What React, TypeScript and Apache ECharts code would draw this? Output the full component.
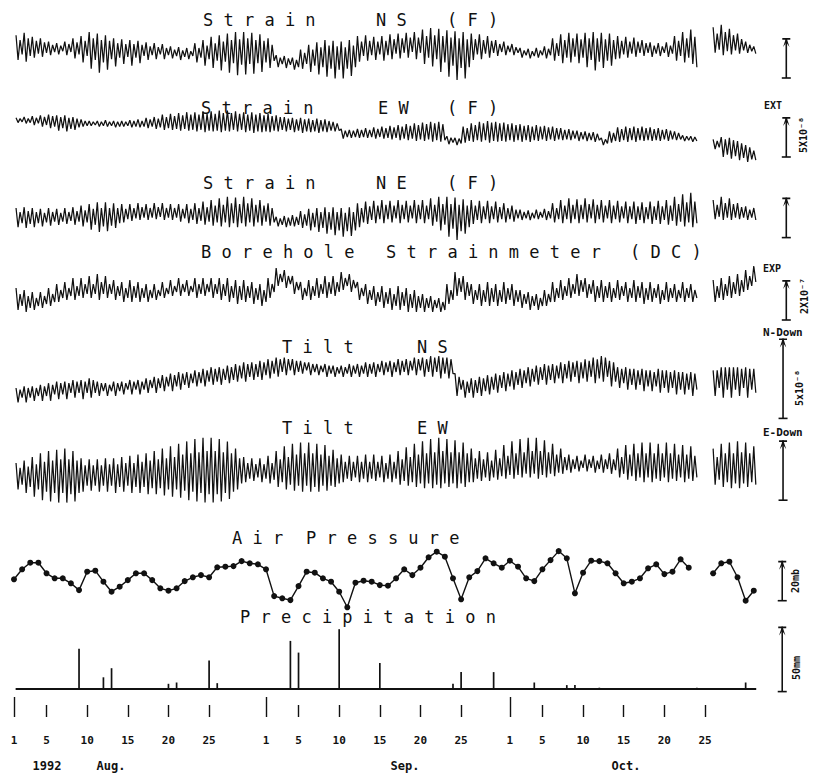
import React, { useEffect, useRef } from "react";
import * as echarts from "echarts";

// Day index: 0 = 1 Aug 1992. Tidal records read at 6-hour steps (4 per day).
const SAMPLE_STEP = 0.25;
const MAIN_START = 0.25;
const RIGHT_START = 86;
const RECORD_START = 0.2;
const RECORD_END = 91.3;

// Strain NS (F), 1e-9
const strainNSMain = [
  16,-15,10,-8, 19,-17,12,-10, 14,-12,9,-7, 12,-11,7,-6, 8,-9,4,-5, 6,-8,3,-4, 8,-9,5,-5, 12,-13,7,-8, 15,-18,9,-10, 20,-26,12,-15,
  18,-31,10,-18, 16,-27,9,-14, 12,-23,6,-12, 11,-20,5,-11, 10,-22,5,-12, 9,-19,4,-10, 7,-15,2,-9, 6,-14,1,-8, 5,-14,0,-9, 2,-13,-2,-10,
  1,-15,-3,-11, 0,-14,-4,-10, 6,-18,0,-12, 10,-22,3,-14, 14,-25,6,-16, 16,-28,8,-17, 18,-31,10,-19, 20,-34,11,-21, 20,-33,12,-20, 19,-32,10,-19,
  17,-30,9,-18, 12,-25,4,-16, -9,-24,-12,-20, -10,-25,-13,-21, -12,-27,-15,-24, -2,-26,-6,-20, 4,-30,-2,-22, 7,-33,1,-24, 10,-36,3,-26, 9,-38,2,-27,
  8,-38,1,-26, 10,-35,3,-24, 15,-17,8,-10, 16,-16,9,-9, 14,-15,8,-8, 15,-16,9,-9, 17,-14,11,-7, 18,-13,12,-6, 19,-12,13,-5, 20,-14,13,-6,
  23,-20,15,-12, 25,-23,16,-14, 24,-30,15,-18, 22,-36,13,-22, 21,-40,12,-25, 20,-38,11,-24, 18,-15,11,-8, 17,-14,10,-7, 15,-12,9,-6, 10,-10,5,-5,
  8,-9,3,-5, 5,-9,1,-6, 0,-12,-3,-9, -1,-13,-4,-10, 0,-12,-3,-9, 2,-13,-1,-9, 12,-16,6,-10, 17,-19,10,-12, 19,-18,12,-11, 18,-19,11,-12,
  19,-24,12,-15, 20,-28,12,-17, 19,-25,11,-16, 18,-22,10,-14, 15,-13,9,-8, 14,-12,8,-7, 13,-11,8,-6, 10,-10,6,-6, 7,-11,3,-7, 6,-10,2,-6,
  7,-11,3,-7, 15,-16,9,-10, 20,-18,12,-12, 23,-20,14,-24,
];
const strainNSRight = [26,-6,18,-2, 29,-9,20,-4, 24,-8,16,-3, 18,-7,11,-3, 8,-6,4,-4, 2,-7];

// Strain EW (F), 1e-9
const strainEWMain = [
  19,13,18,14, 20,12,18,13, 21,10,19,12, 22,8,20,10, 23,6,21,8, 22,3,20,6, 22,2,19,5, 20,4,18,7, 17,8,15,9, 15,9,14,10,
  15,8,14,9, 16,8,14,9, 15,7,14,8, 15,8,14,9, 16,7,15,8, 17,7,15,8, 19,6,17,8, 20,5,18,7, 23,4,20,6, 24,4,21,5,
  25,3,22,5, 26,3,23,4, 26,2,23,4, 27,1,24,3, 27,2,24,3, 28,1,25,3, 28,2,25,4, 27,2,24,4, 26,1,23,3, 26,0,23,2,
  25,1,22,2, 24,1,21,3, 22,2,20,4, 20,2,18,4, 19,1,17,3, 19,0,17,2, 18,1,16,2, 18,0,16,2, 17,1,15,3, 14,2,12,3,
  5,-7,3,-5, 4,-6,3,-5, 5,-6,4,-5, 6,-6,4,-5, 7,-7,5,-5, 8,-7,6,-6, 9,-8,7,-6, 10,-9,8,-7, 11,-9,9,-7, 12,-10,10,-8,
  13,-10,11,-8, 14,-11,12,-9, 14,-11,11,-9, -4,-14,-6,-12, -6,-15,-7,-13, 8,-12,6,-10, 12,-11,10,-9, 14,-11,12,-9, 15,-12,13,-10, 14,-11,12,-10,
  13,-11,11,-9, 12,-11,10,-9, 11,-11,9,-9, 10,-11,8,-9, 10,-10,8,-8, 9,-10,7,-8, 8,-10,6,-8, 6,-9,4,-8, 5,-9,3,-7, 3,-10,1,-8,
  2,-10,0,-9, 1,-11,-1,-9, -6,-15,-8,-13, 2,-12,0,-10, 7,-11,5,-9, 8,-11,6,-9, 8,-11,6,-9, 8,-10,6,-9, 7,-10,5,-9, 6,-10,4,-8,
  5,-10,3,-8, 2,-9,0,-8, -3,-10,-4,-9, -4,-11,-5,-10,
];
const strainEWRight = [-8,-20,-10,-18, -5,-30,-8,-27, -6,-32,-9,-29, -10,-34,-13,-31, -15,-36,-18,-33, -22,-34];

// Strain NE (F), 1e-9
const strainNEMain = [
  10,-14,5,-9, 11,-15,6,-10, 10,-14,5,-9, 9,-13,4,-8, 10,-12,5,-7, 9,-11,4,-7, 10,-10,5,-6, 11,-11,6,-7, 13,-13,7,-8, 15,-17,9,-11,
  17,-20,10,-13, 17,-19,10,-12, 16,-15,10,-9, 15,-8,9,-4, 15,-6,10,-3, 16,-5,11,-2, 15,-5,10,-2, 16,-4,11,-1, 16,-5,10,-2, 15,-5,10,-2,
  15,-7,9,-3, 15,-9,9,-5, 16,-10,10,-6, 18,-11,11,-7, 20,-12,13,-8, 22,-13,14,-8, 24,-14,16,-9, 23,-14,15,-9, 24,-13,16,-8, 22,-13,14,-8,
  20,-12,13,-7, 16,-12,10,-8, -1,-13,-3,-11, 0,-14,-2,-12, 1,-13,-1,-11, 6,-15,2,-12, 9,-18,4,-14, 10,-20,5,-15, 11,-22,5,-17, 11,-24,5,-18,
  10,-26,4,-19, 11,-25,5,-18, 16,-14,10,-8, 18,-10,12,-5, 19,-9,13,-4, 20,-9,14,-4, 19,-8,13,-3, 20,-9,14,-4, 19,-8,13,-3, 20,-9,14,-4,
  20,-9,13,-4, 22,-12,14,-7, 24,-18,15,-11, 24,-26,15,-16, 23,-30,14,-19, 21,-22,13,-14, 20,-10,13,-5, 19,-9,12,-4, 19,-9,12,-4, 18,-8,11,-4,
  16,-8,10,-4, 13,-7,8,-3, 8,-5,5,-3, 7,-5,4,-3, 8,-4,5,-2, 9,-5,6,-3, 16,-8,10,-4, 20,-9,13,-4, 22,-9,14,-4, 21,-9,14,-4,
  22,-8,15,-3, 21,-9,14,-4, 20,-8,13,-3, 20,-9,13,-4, 19,-8,12,-3, 18,-9,12,-4, 18,-10,12,-5, 17,-9,11,-4, 18,-10,12,-5, 19,-10,12,-5,
  20,-11,13,-6, 24,-12,15,-7, 27,-13,17,-8, 29,-14,18,-9,
];
const strainNERight = [20,-4,14,-1, 24,-5,16,-2, 22,-5,15,-2, 16,-4,11,-2, 12,-5,8,-2, 10,-5];

// Borehole strainmeter (DC), 1e-8
const boreholeMain = [
  1,-10,-2,-8, 0,-11,-3,-9, -1,-10,-4,-8, -1,-9,-3,-7, 1,-8,-2,-6, 3,-6,0,-4, 4,-5,1,-3, 6,-5,2,-3, 6,-4,3,-2, 7,-4,3,-2,
  8,-5,4,-2, 7,-4,3,-2, 5,-5,2,-3, 4,-6,1,-4, 5,-6,2,-4, 4,-6,1,-4, 3,-6,0,-4, 3,-5,0,-3, 4,-4,1,-2, 5,-3,2,-1,
  6,-3,3,-1, 5,-3,2,-1, 6,-4,3,-2, 6,-3,3,-1, 6,-4,3,-2, 6,-5,3,-3, 6,-6,2,-4, 5,-7,2,-5, 5,-6,2,-4, 4,-7,1,-5,
  3,-8,0,-6, 6,-4,3,-1, 11,2,8,4, 10,1,7,3, 7,-2,4,0, 4,-5,1,-3, 5,-5,2,-3, 6,-4,3,-2, 7,-4,4,-2, 7,-3,4,-1,
  9,0,6,2, 8,-1,5,1, 4,-5,1,-3, 3,-7,0,-5, 2,-8,-1,-6, 2,-9,-1,-7, 1,-10,-2,-8, 2,-10,-1,-8, 1,-11,-2,-9, 0,-11,-3,-9,
  -2,-11,-4,-9, -3,-11,-5,-9, -4,-11,-6,-10, 3,-7,0,-5, 9,-3,6,-1, 7,-5,4,-3, 3,-7,0,-5, 3,-8,0,-6, 4,-8,1,-6, 3,-8,0,-6,
  4,-7,1,-5, 3,-8,0,-6, 0,-9,-2,-7, -1,-10,-3,-8, -2,-10,-4,-8, 0,-8,-2,-6, 4,-6,1,-4, 5,-5,2,-3, 6,-4,3,-2, 8,-3,5,-1,
  6,-4,3,-2, 5,-6,2,-4, 5,-6,2,-4, 4,-6,1,-4, 5,-5,2,-3, 4,-6,1,-4, 5,-6,2,-4, 4,-7,1,-5, 4,-6,1,-4, 3,-7,0,-5,
  4,-6,1,-4, 3,-6,0,-4, 4,-6,1,-4, 3,-6,0,-4,
];
const boreholeRight = [5,-6,2,-4, 6,-5,3,-3, 7,-4,4,-2, 8,-3,5,-1, 10,0,7,2, 12,4];

// Tilt NS, 1e-9 rad
const tiltNSMain = [
  -5,-14,-6,-11, -4,-14,-5,-11, -4,-13,-5,-10, -3,-13,-4,-10, -2,-13,-3,-9, -1,-12,-2,-9, -1,-12,-2,-8, 0,-11,-1,-8, 0,-12,-1,-8, 1,-11,0,-8,
  -1,-10,-2,-7, -2,-10,-3,-7, -1,-10,-2,-7, -1,-9,-2,-6, 0,-9,-1,-6, 0,-9,-1,-6, 1,-8,0,-5, 2,-8,1,-5, 3,-7,2,-4, 4,-7,3,-4,
  5,-6,4,-3, 5,-5,4,-2, 6,-4,5,-2, 7,-4,6,-1, 8,-3,7,-1, 8,-3,7,0, 9,-2,8,0, 10,-1,9,1, 11,-1,10,2, 11,0,10,2,
  12,0,11,3, 13,1,12,4, 14,2,13,5, 14,3,13,6, 13,3,12,5, 12,4,11,6, 11,3,10,5, 10,3,9,5, 10,2,9,4, 9,2,8,4,
  9,2,8,4, 10,2,9,4, 10,2,9,4, 11,2,10,4, 11,2,10,5, 12,3,11,5, 12,2,11,5, 13,3,12,5, 13,3,12,6, 14,3,13,6,
  14,2,13,5, 15,2,14,5, 15,1,14,4, 14,1,13,4, 4,-10,2,-6, 0,-11,-1,-8, 1,-11,0,-8, 2,-10,1,-7, 3,-9,2,-6, 4,-8,3,-5,
  5,-7,4,-4, 6,-6,5,-3, 7,-5,6,-2, 8,-4,7,-1, 9,-3,8,0, 10,-3,9,0, 10,-2,9,1, 11,-2,10,1, 12,-1,11,2, 12,-2,11,1,
  13,-1,12,2, 14,-2,13,1, 15,-1,14,2, 12,-4,11,-1, 8,-5,7,-2, 8,-6,7,-3, 7,-6,6,-3, 7,-7,6,-4, 6,-7,5,-4, 7,-8,6,-5,
  6,-8,5,-5, 6,-9,5,-6, 5,-9,4,-6, 5,-10,4,-6,
];
const tiltNSRight = [6,-10,6,-5, 8,-11,8,-6, 8,-11,8,-6, 8,-10,7,-5, 8,-11,7,-6, 7,-8];

// Tilt EW, 1e-9 rad
const tiltEWMain = [
  10,-12,6,-8, 12,-15,7,-10, 15,-18,9,-12, 18,-21,11,-14, 20,-22,12,-15, 21,-23,13,-15, 22,-23,13,-16, 20,-22,12,-15, 14,-14,8,-9, 13,-13,8,-9,
  13,-14,8,-9, 14,-14,9,-9, 14,-15,9,-10, 15,-14,10,-9, 16,-15,10,-10, 17,-15,11,-10, 18,-16,12,-11, 20,-16,13,-11, 22,-17,14,-12, 24,-18,15,-12,
  26,-19,17,-13, 28,-21,18,-14, 30,-22,19,-15, 31,-23,20,-16, 31,-23,20,-16, 30,-22,19,-15, 28,-20,18,-14, 22,-12,14,-7, 15,-6,10,-3, 14,-5,9,-2,
  14,-6,9,-3, 16,-7,10,-4, 20,-10,13,-6, 24,-12,15,-8, 26,-13,17,-9, 27,-14,18,-9, 27,-14,18,-10, 26,-14,17,-9, 25,-13,16,-9, 21,-10,14,-7,
  17,-6,11,-3, 16,-5,11,-2, 16,-6,11,-3, 17,-6,11,-3, 17,-5,11,-2, 16,-6,10,-3, 17,-6,11,-3, 20,-8,13,-5, 23,-9,15,-6, 26,-10,17,-7,
  28,-11,18,-7, 30,-11,19,-8, 31,-11,20,-7, 30,-10,19,-7, 29,-11,19,-7, 27,-10,18,-6, 22,-6,14,-3, 20,-5,13,-2, 19,-5,12,-2, 21,-4,14,-1,
  25,-3,16,0, 28,-3,18,0, 30,-2,19,1, 31,-2,20,1, 31,-3,20,0, 29,-2,19,1, 26,-1,17,2, 22,1,15,4, 17,2,13,5, 16,3,12,6,
  17,3,13,6, 16,2,12,5, 17,2,13,5, 18,1,13,4, 22,-2,15,1, 25,-4,17,-1, 26,-5,18,-2, 27,-6,18,-2, 27,-6,18,-3, 26,-5,18,-2,
  27,-6,18,-3, 26,-5,17,-2, 25,-6,17,-3, 24,-5,16,-2,
];
const tiltEWRight = [22,-8,15,-4, 26,-10,18,-6, 27,-11,18,-7, 28,-11,19,-7, 27,-10,18,-6, 24,-8];

// Air pressure, daily (mb)
const pressureMain = [
  1013.7, 1018.7, 1022.0, 1022.0, 1016.7, 1014.2, 1014.2, 1011.7, 1008.3, 1017.5,
  1018.0, 1012.5, 1007.5, 1010.0, 1013.3, 1016.7, 1016.7, 1013.3, 1009.2, 1008.0,
  1009.2, 1012.8, 1014.7, 1015.8, 1014.7, 1019.7, 1020.0, 1020.3, 1022.8, 1021.7,
  1021.2, 1018.7, 1005.3, 1004.2, 1003.3, 1010.3, 1017.5, 1017.0, 1014.2, 1012.5,
  1007.5, 999.7, 1012.0, 1013.0, 1012.5, 1010.8, 1010.5, 1014.2, 1018.7, 1015.8,
  1019.5, 1024.7, 1027.5, 1025.0, 1014.2, 1003.7, 1014.7, 1017.8, 1024.2, 1021.7,
  1019.5, 1023.0, 1020.0, 1014.2, 1012.8, 1018.7, 1023.3, 1027.8, 1024.2, 1006.7,
  1017.0, 1023.0, 1022.8, 1021.7, 1016.7, 1011.7, 1012.5, 1014.2, 1019.2, 1021.2,
  1016.3, 1017.5, 1023.7, 1019.5,
];
const pressureRight = [1016.7, 1021.7, 1022.5, 1014.7, 1003.0, 1008.0];

// Precipitation (mm) by day index
const precipDays = [8, 11, 12, 19, 20, 24, 25, 34, 35, 40, 45, 54, 55, 59, 64, 68, 69, 72, 84, 90];
const precipMm = [31, 9, 16, 4, 5, 22, 4.5, 37, 28, 46, 20, 4, 13, 13, 5, 3, 3, 1, 1, 5];

// Time axis
const tickDays = [0, 4, 9, 14, 19, 24, 31, 35, 40, 45, 50, 55, 61, 65, 70, 75, 80, 85];
const tickLabels = ["1", "5", "10", "15", "20", "25", "1", "5", "10", "15", "20", "25", "1", "5", "10", "15", "20", "25"];
const monthStartDays = [0, 31, 61];

const X_MAX = 98.9;
const INK = "#111111";
const MONO = "DejaVu Sans Mono";

const PANELS = [
  { top: 8, height: 80, min: -50, max: 50 },
  { top: 93, height: 80, min: -50, max: 50 },
  { top: 176, height: 80, min: -50, max: 50 },
  { top: 250, height: 80, min: -20, max: 20 },
  { top: 330, height: 100, min: -31.25, max: 31.25 },
  { top: 433, height: 84, min: -35, max: 35 },
  { top: 546.7, height: 70, min: 995, max: 1030 },
  { top: 624, height: 65, min: 0, max: 50 },
];

// scale bars: [panel, day position, start value, length]
const SCALE_BARS: [number, number, number, number][] = [
  [0, 95, -37.5, 50],
  [1, 95, -30, 50],
  [2, 95, -27, 50],
  [3, 95, -15, 20],
  [4, 94.6, -24, 50],
  [5, 94.6, -21, 50],
  [6, 94.5, 1003, 20],
  [7, 94.5, -2, 50],
];

const toPairs = (vals: number[], start: number, step: number) =>
  vals.map((v, i) => [start + i * step, v]);

const ARROW = "path://M0,0 L10,0 L10,1.5 L6,1.5 L9,8 L5,4 L1,8 L4,1.5 L0,1.5 Z";

function buildOption() {
  const grid: any[] = PANELS.map((p) => ({ left: 14, right: 0, top: p.top, height: p.height }));
  grid.push({ left: 14, right: 0, top: 690, height: 27 });

  const xAxis: any[] = PANELS.map((_, i) => ({ type: "value", gridIndex: i, min: 0, max: X_MAX, show: false }));
  const yAxis: any[] = PANELS.map((p, i) => ({ type: "value", gridIndex: i, min: p.min, max: p.max, show: false }));

  const minorTicks = tickDays.filter((d) => monthStartDays.indexOf(d) < 0);
  xAxis.push({
    type: "value", gridIndex: 8, position: "bottom", min: 0, max: X_MAX,
    axisLine: { show: false }, splitLine: { show: false },
    axisTick: { show: true, inside: true, length: 12, customValues: minorTicks, lineStyle: { color: INK, width: 1.4 } },
    axisLabel: {
      show: true, customValues: tickDays, margin: 18,
      formatter: (v: number) => tickLabels[tickDays.indexOf(Math.round(v))] ?? "",
      fontFamily: MONO, fontWeight: "bold", fontSize: 11, color: INK,
    },
  });
  xAxis.push({
    type: "value", gridIndex: 8, position: "bottom", offset: 0, min: 0, max: X_MAX,
    axisLine: { show: false }, splitLine: { show: false },
    axisTick: { show: true, inside: true, length: 20, customValues: monthStartDays, lineStyle: { color: INK, width: 1.4 } },
    axisLabel: { show: false },
  });
  yAxis.push({ type: "value", gridIndex: 8, show: false, min: 0, max: 1 });

  const traces = [
    [strainNSMain, strainNSRight],
    [strainEWMain, strainEWRight],
    [strainNEMain, strainNERight],
    [boreholeMain, boreholeRight],
    [tiltNSMain, tiltNSRight],
    [tiltEWMain, tiltEWRight],
  ];
  const series: any[] = [];
  traces.forEach(([m, r], i) => {
    [toPairs(m, MAIN_START, SAMPLE_STEP), toPairs(r, RIGHT_START, SAMPLE_STEP)].forEach((data) => {
      series.push({
        type: "line", xAxisIndex: i, yAxisIndex: i, data, symbol: "none", silent: true,
        lineStyle: { color: INK, width: 1.25 },
      });
    });
  });

  [toPairs(pressureMain, 0, 1), toPairs(pressureRight, 86, 1)].forEach((data) => {
    series.push({
      type: "line", xAxisIndex: 6, yAxisIndex: 6, data, symbol: "circle", symbolSize: 6, silent: true,
      lineStyle: { color: INK, width: 1.4 }, itemStyle: { color: INK },
    });
  });

  series.push({
    type: "line", xAxisIndex: 7, yAxisIndex: 7, data: [[RECORD_START, 0], [RECORD_END, 0]],
    symbol: "none", silent: true, lineStyle: { color: INK, width: 1.8 },
  });
  series.push({
    type: "bar", xAxisIndex: 7, yAxisIndex: 7, barWidth: 1.7, silent: true,
    data: precipDays.map((d, i) => [d, precipMm[i]]), itemStyle: { color: INK },
  });

  SCALE_BARS.forEach(([p, day, start, len]) => {
    series.push({
      type: "line", xAxisIndex: p, yAxisIndex: p, clip: false, silent: true,
      lineStyle: { color: INK, width: 1.6 }, itemStyle: { color: INK },
      data: [
        { value: [day, start], symbol: "rect", symbolSize: [9, 1.6] },
        { value: [day, start + len], symbol: ARROW, symbolSize: [8, 9], symbolOffset: [0, 4.5] },
      ],
    });
  });

  const title = (text: string, x: number, y: number) => ({
    type: "text", x, y, silent: true,
    style: { text, fill: INK, fontFamily: MONO, fontSize: 17, textAlign: "left", textVerticalAlign: "middle" },
  });
  const small = (text: string, x: number, y: number, rot = 0, align = "left", size = 10) => ({
    type: "text", x, y, rotation: rot, silent: true,
    style: { text, fill: INK, fontFamily: MONO, fontWeight: "bold", fontSize: size, textAlign: align, textVerticalAlign: "middle" },
  });
  const month = (text: string, x: number) => ({
    type: "text", x, y: 766, silent: true,
    style: { text, fill: INK, fontFamily: MONO, fontWeight: "bold", fontSize: 12, textAlign: "center", textVerticalAlign: "middle" },
  });

  const graphic = [
    title("S t r a i n", 203, 20), title("N S", 376, 20), title("( F )", 447, 20),
    title("S t r a i n", 201, 108), title("E W", 378, 108), title("( F )", 447, 108),
    title("S t r a i n", 203, 183), title("N E", 376, 183), title("( F )", 447, 183),
    title("B o r e h o l e", 201, 252), title("S t r a i n m e t e r", 386, 252), title("( D C )", 630, 252),
    title("T i l t", 282, 347), title("N S", 417, 347),
    title("T i l t", 282, 428), title("E W", 417, 428),
    title("A i r", 232, 538), title("P r e s s u r e", 306, 538),
    title("P r e c i p i t a t i o n", 240, 617),
    small("EXT", 764, 105), small("5X10⁻⁸", 803, 135, Math.PI / 2, "center"),
    small("EXP", 763, 268), small("2X10⁻⁷", 804, 296, Math.PI / 2, "center"),
    small("N-Down", 763, 332, 0, "left", 11), small("5x10⁻⁸", 799, 388, Math.PI / 2, "center"),
    small("E-Down", 763, 432, 0, "left", 11),
    small("20mb", 795, 581, Math.PI / 2, "center"),
    small("50mm", 796, 668, Math.PI / 2, "center"),
    month("1992", 47), month("Aug.", 111), month("Sep.", 405), month("Oct.", 626),
  ];

  return { animation: false, backgroundColor: "#ffffff", grid, xAxis, yAxis, series, graphic };
}

export default function App() {
  const ref = useRef<HTMLDivElement>(null);
  useEffect(() => {
    if (!ref.current) return;
    const chart = echarts.init(ref.current, undefined, { renderer: "svg" });
    chart.setOption(buildOption() as any);
    return () => chart.dispose();
  }, []);
  return (
    <div
      ref={ref}
      style={{ position: "absolute", left: 0, top: 0, width: 818, height: 774, background: "#fff" }}
    />
  );
}
